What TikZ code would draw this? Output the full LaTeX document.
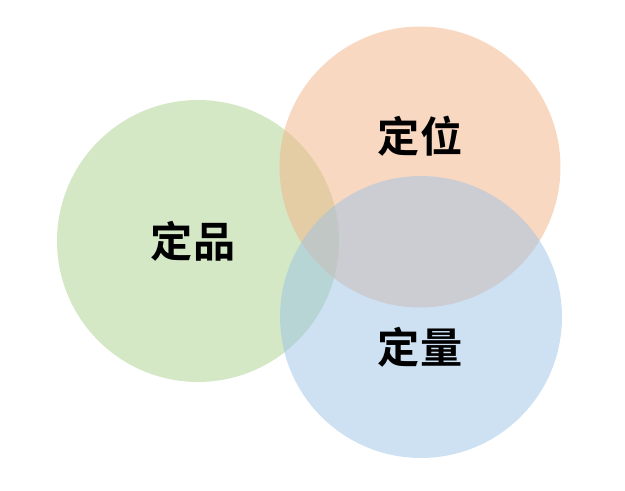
\documentclass[tikz,border=0pt]{standalone}
\usepackage{fontspec}
\newfontfamily\cjk{Noto Sans CJK SC}[BoldFont={Noto Sans CJK SC Bold}]
\definecolor{pinA}{HTML}{A9D18E}
\definecolor{weiA}{HTML}{F4B183}
\definecolor{liangA}{HTML}{9DC3E6}
\tikzset{
  quan/.style={fill opacity=0.5},
  ziti/.style={font=\cjk\bfseries\fontsize{24pt}{28pt}\selectfont, inner sep=0pt}
}
\begin{document}
\begin{tikzpicture}[x=0.02cm,y=0.02cm]
    \useasboundingbox (0,0) rectangle (625,490);

    % 三个圆
    \coordinate (P) at (198,249);
    \coordinate (W) at (420,323);
    \coordinate (L) at (421,173);
    \fill[pinA,quan] (P) circle[radius=2.82cm];
    \fill[weiA,quan] (W) circle[radius=2.81cm];
    \fill[liangA,quan] (L) circle[radius=2.82cm];

    % 文字
    \node[ziti] (pin) at (193,248.5) {定品};
    \node[ziti] (wei) at (420,354) {定位};
    \node[ziti] (liang) at (420,143) {定量};

\end{tikzpicture}
\end{document}
